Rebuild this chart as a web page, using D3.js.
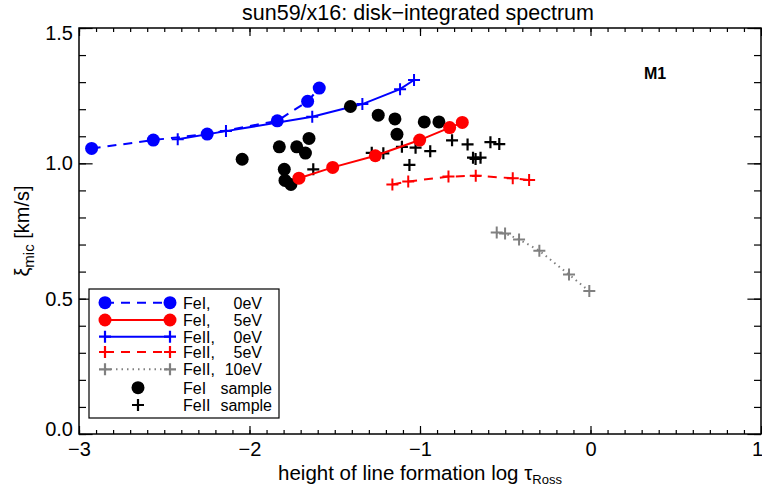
<!DOCTYPE html>
<html><head><meta charset="utf-8">
<script src="https://cdn.jsdelivr.net/npm/d3@7"></script>
<style>body{margin:0;background:#fff}svg{display:block;font-family:"Liberation Sans",Arial,Helvetica,sans-serif}</style>
</head><body><svg id="c" width="762" height="494"></svg>
<script>
// ---------- data ----------
const title = "sun59/x16: disk\u2212integrated spectrum";
const xTicks = [-3, -2, -1, 0, 1];
const yTicks = [0.0, 0.5, 1.0, 1.5];

const feI0x  = [-2.926, -2.564, -2.248, -1.837, -1.659, -1.591];
const feI0y  = [1.055, 1.086, 1.108, 1.157, 1.229, 1.278];
const feI5x  = [-1.710, -1.512, -1.262, -1.002, -0.826, -0.752];
const feI5y  = [0.945, 0.985, 1.028, 1.086, 1.132, 1.151];
const feII0x = [-2.421, -2.138, -1.632, -1.338, -1.117, -1.035];
const feII0y = [1.089, 1.119, 1.172, 1.219, 1.274, 1.308];
const feII5x = [-1.162, -1.069, -0.833, -0.673, -0.456, -0.360];
const feII5y = [0.922, 0.933, 0.951, 0.954, 0.945, 0.938];
const feII10x = [-0.550, -0.501, -0.419, -0.300, -0.126, -0.007];
const feII10y = [0.744, 0.741, 0.719, 0.677, 0.589, 0.528];
const sampIx = [-2.043, -1.825, -1.723, -1.672, -1.651, -1.796, -1.792, -1.757, -1.408, -1.245, -1.147, -1.135, -0.975, -0.889];
const sampIy = [1.015, 1.061, 1.061, 1.038, 1.092, 0.978, 0.937, 0.922, 1.210, 1.178, 1.164, 1.107, 1.153, 1.153];
const sampIIx = [-1.626, -1.283, -1.215, -1.106, -1.026, -0.940, -1.062, -0.812, -0.721, -0.689, -0.674, -0.645, -0.587, -0.535];
const sampIIy = [0.978, 1.039, 1.037, 1.061, 1.058, 1.045, 0.994, 1.085, 1.070, 1.021, 1.016, 1.021, 1.078, 1.071];

const legendNames = ["FeI,", "FeI,", "FeII,", "FeII,", "FeII,", "FeI", "FeII"];
const legendVals  = ["0eV", "5eV", "0eV", "5eV", "10eV", "sample", "sample"];

// ---------- setup ----------
const svg = d3.select("#c");
const L = 79, R = 761, T = 28, B = 434;
const x = d3.scaleLinear().domain([-3, 1]).range([L, R]);
const y = d3.scaleLinear().domain([0, 1.5]).range([B, T]);

const BLUE = "#0000ff", RED = "#ff0000", GREY = "#808080";

// title
svg.append("text").attr("x", 418).attr("y", 20).attr("text-anchor", "middle")
  .attr("font-size", 21.5).text(title);

// axes
const fmtX = d3.format("d"), fmtY = d3.format(".1f");
function styleAxis(g) {
  g.select(".domain").remove();
  g.selectAll("line").attr("stroke", "#000").attr("stroke-width", 1.2);
  g.selectAll("text").attr("font-size", 20).attr("fill", "#000").attr("font-family", null);
  g.attr("font-family", null);
}
const minorX = d3.range(-30, 11).map(d => d / 10);
const minorY = d3.range(0, 16).map(d => d / 10);

svg.append("g").attr("transform", `translate(0,${B})`)
  .call(d3.axisBottom(x).tickValues(minorX).tickSize(-4).tickFormat("")).call(styleAxis);
svg.append("g").attr("transform", `translate(0,${T})`)
  .call(d3.axisTop(x).tickValues(minorX).tickSize(-4).tickFormat("")).call(styleAxis);
svg.append("g").attr("transform", `translate(${L},0)`)
  .call(d3.axisLeft(y).tickValues(minorY).tickSize(-7).tickFormat("")).call(styleAxis);
svg.append("g").attr("transform", `translate(${R},0)`)
  .call(d3.axisRight(y).tickValues(minorY).tickSize(-7).tickFormat("")).call(styleAxis);

const gxb = svg.append("g").attr("transform", `translate(0,${B})`)
  .call(d3.axisBottom(x).tickValues(xTicks).tickSizeInner(-8).tickSizeOuter(0).tickPadding(8).tickFormat(fmtX)).call(styleAxis);
gxb.selectAll("text").attr("x", d => d === 1 ? -4 : 0);
svg.append("g").attr("transform", `translate(0,${T})`)
  .call(d3.axisTop(x).tickValues(xTicks).tickSizeInner(-8).tickSizeOuter(0).tickFormat("")).call(styleAxis);
const gyl = svg.append("g").attr("transform", `translate(${L},0)`)
  .call(d3.axisLeft(y).tickValues(yTicks).tickSizeInner(-13.6).tickSizeOuter(0).tickPadding(6).tickFormat(fmtY)).call(styleAxis);
gyl.selectAll("text").attr("y", d => d === 1.5 ? 5 : (d === 0 ? -5 : 0));
svg.append("g").attr("transform", `translate(${R},0)`)
  .call(d3.axisRight(y).tickValues(yTicks).tickSizeInner(-13.6).tickSizeOuter(0).tickFormat("")).call(styleAxis);

// frame
svg.append("rect").attr("x", L).attr("y", T).attr("width", R - L).attr("height", B - T)
  .attr("fill", "none").attr("stroke", "#000").attr("stroke-width", 1.5);

// axis titles
const xt = svg.append("text").attr("x", 420).attr("y", 480).attr("text-anchor", "middle").attr("font-size", 20.5);
xt.append("tspan").text("height of line formation log \u03c4");
xt.append("tspan").attr("font-size", 13).attr("dy", 4).text("Ross");

const yt = svg.append("text").attr("transform", "translate(29,231) rotate(-90)")
  .attr("text-anchor", "middle").attr("font-size", 20);
yt.append("tspan").text("\u03be");
yt.append("tspan").attr("font-size", 15).attr("dy", 5).text("mic");
yt.append("tspan").attr("dy", -5).text(" [km/s]");

// label M1
svg.append("text").attr("x", 644).attr("y", 79).attr("font-size", 16).attr("font-weight", "bold").text("M1");

// ---------- marks ----------
const line = d3.line().x(d => x(d[0])).y(d => y(d[1]));
function zip(a, b) { return a.map((v, i) => [v, b[i]]); }
const plot = svg.append("g");

function drawLine(xs, ys, color, dash) {
  plot.append("path").datum(zip(xs, ys)).attr("d", line).attr("fill", "none")
    .attr("stroke", color).attr("stroke-width", 2).attr("stroke-dasharray", dash);
}
function drawCircles(xs, ys, color, r) {
  plot.append("g").selectAll("circle").data(zip(xs, ys)).join("circle")
    .attr("cx", d => x(d[0])).attr("cy", d => y(d[1])).attr("r", r).attr("fill", color);
}
const plusPath = (cx, cy, s) => `M${cx - s},${cy}H${cx + s}M${cx},${cy - s}V${cy + s}`;
function drawPlus(xs, ys, color, s, w) {
  plot.append("g").selectAll("path").data(zip(xs, ys)).join("path")
    .attr("d", d => plusPath(x(d[0]), y(d[1]), s)).attr("stroke", color).attr("stroke-width", w).attr("fill", "none");
}

drawLine(feI0x, feI0y, BLUE, "9,7");
drawCircles(feI0x, feI0y, BLUE, 6.5);
drawLine(feII0x, feII0y, BLUE, null);
drawPlus(feII0x, feII0y, BLUE, 6, 2);
drawCircles(sampIx, sampIy, "#000", 6.5);
drawPlus(sampIIx, sampIIy, "#000", 6, 2.2);
drawLine(feI5x, feI5y, RED, null);
drawCircles(feI5x, feI5y, RED, 6.5);
drawLine(feII5x, feII5y, RED, "9,7");
drawPlus(feII5x, feII5y, RED, 6, 2);
drawLine(feII10x, feII10y, GREY, "1.5,4");
drawPlus(feII10x, feII10y, GREY, 6, 2);

// ---------- legend ----------
const lg = svg.append("g");
lg.append("rect").attr("x", 89).attr("y", 289).attr("width", 190).attr("height", 129)
  .attr("fill", "#fff").attr("stroke", "#000").attr("stroke-width", 1.2);
const rowY = [302.7, 320, 336.7, 352, 369.3, 387.7, 405];
const legStyle = [
  {c: BLUE, dash: "9,7", m: "circle"},
  {c: RED, dash: null, m: "circle"},
  {c: BLUE, dash: null, m: "plus"},
  {c: RED, dash: "9,7", m: "plus"},
  {c: GREY, dash: "1.5,4", m: "plus"},
  {c: "#000", dash: null, m: "circle", single: true},
  {c: "#000", dash: null, m: "plus", single: true}
];
legStyle.forEach((s, i) => {
  const yy = rowY[i];
  const xs = s.single ? [138] : [105, 170];
  if (!s.single) lg.append("line").attr("x1", 105).attr("x2", 170).attr("y1", yy).attr("y2", yy)
    .attr("stroke", s.c).attr("stroke-width", 2).attr("stroke-dasharray", s.dash);
  xs.forEach(px => {
    if (s.m === "circle") lg.append("circle").attr("cx", px).attr("cy", yy).attr("r", 6.5).attr("fill", s.c);
    else lg.append("path").attr("d", plusPath(px, yy, 6)).attr("stroke", s.c).attr("stroke-width", 2.2);
  });
  lg.append("text").attr("x", 183).attr("y", yy + 5.8).attr("font-size", 16).text(legendNames[i]);
  lg.append("text").attr("x", s.single ? 272 : 262).attr("y", yy + 5.8).attr("text-anchor", "end")
    .attr("font-size", 16).text(legendVals[i]);
});
</script></body></html>
